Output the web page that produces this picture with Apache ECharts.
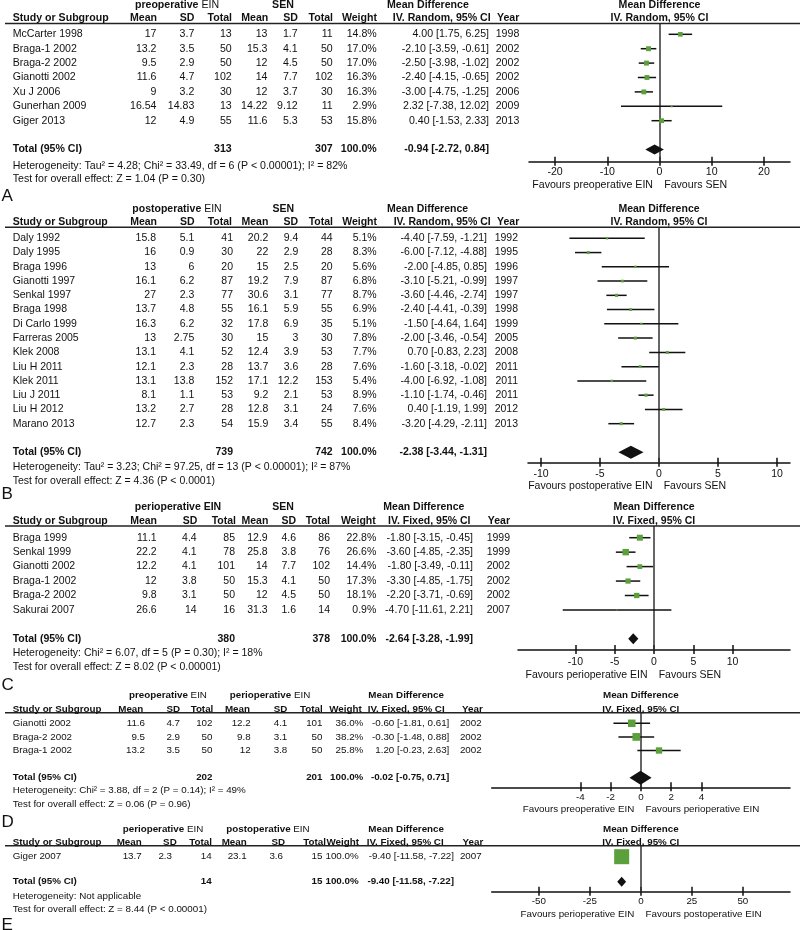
<!DOCTYPE html>
<html><head><meta charset="utf-8">
<script src="https://cdn.jsdelivr.net/npm/echarts@6/dist/echarts.min.js"></script>
<style>html,body{margin:0;padding:0;background:#fff}#c{width:800px;height:930px}</style>
</head><body><div id="c"></div>
<script>
// ===== Panel A: preoperative EIN vs SEN =====
const aStudy = ['McCarter 1998','Braga-1 2002','Braga-2 2002','Gianotti 2002','Xu J 2006','Gunerhan 2009','Giger 2013'];
const aMean1 = [17,13.2,9.5,11.6,9,16.54,12];
const aSD1 = [3.7,3.5,2.9,4.7,3.2,14.83,4.9];
const aN1 = [13,50,50,102,30,13,55];
const aMean2 = [13,15.3,12,14,12,14.22,11.6];
const aSD2 = [1.7,4.1,4.5,7.7,3.7,9.12,5.3];
const aN2 = [11,50,50,102,30,11,53];
const aWeight = [14.8,17.0,17.0,16.3,16.3,2.9,15.8];
const aMD = [4.00,-2.10,-2.50,-2.40,-3.00,2.32,0.40];
const aLo = [1.75,-3.59,-3.98,-4.15,-4.75,-7.38,-1.53];
const aHi = [6.25,-0.61,-1.02,-0.65,-1.25,12.02,2.33];
const aYear = [1998,2002,2002,2002,2006,2009,2013];
const aTotal = [313,307,-0.94,-2.72,0.84];
const aTicks = [-20,-10,0,10,20];

// ===== Panel B: postoperative EIN vs SEN =====
const bStudy = ['Daly 1992','Daly 1995','Braga 1996','Gianotti 1997','Senkal 1997','Braga 1998','Di Carlo 1999','Farreras 2005','Klek 2008','Liu H 2011','Klek 2011','Liu J 2011','Liu H 2012','Marano 2013'];
const bMean1 = [15.8,16,13,16.1,27,13.7,16.3,13,13.1,12.1,13.1,8.1,13.2,12.7];
const bSD1 = [5.1,0.9,6,6.2,2.3,4.8,6.2,2.75,4.1,2.3,13.8,1.1,2.7,2.3];
const bN1 = [41,30,20,87,77,55,32,30,52,28,152,53,28,54];
const bMean2 = [20.2,22,15,19.2,30.6,16.1,17.8,15,12.4,13.7,17.1,9.2,12.8,15.9];
const bSD2 = [9.4,2.9,2.5,7.9,3.1,5.9,6.9,3,3.9,3.6,12.2,2.1,3.1,3.4];
const bN2 = [44,28,20,87,77,55,35,30,53,28,153,53,24,55];
const bWeight = [5.1,8.3,5.6,6.8,8.7,6.9,5.1,7.8,7.7,7.6,5.4,8.9,7.6,8.4];
const bMD = [-4.40,-6.00,-2.00,-3.10,-3.60,-2.40,-1.50,-2.00,0.70,-1.60,-4.00,-1.10,0.40,-3.20];
const bLo = [-7.59,-7.12,-4.85,-5.21,-4.46,-4.41,-4.64,-3.46,-0.83,-3.18,-6.92,-1.74,-1.19,-4.29];
const bHi = [-1.21,-4.88,0.85,-0.99,-2.74,-0.39,1.64,-0.54,2.23,-0.02,-1.08,-0.46,1.99,-2.11];
const bYear = [1992,1995,1996,1997,1997,1998,1999,2005,2008,2011,2011,2011,2012,2013];
const bTotal = [739,742,-2.38,-3.44,-1.31];
const bTicks = [-10,-5,0,5,10];

// ===== Panel C: perioperative EIN vs SEN =====
const cStudy = ['Braga 1999','Senkal 1999','Gianotti 2002','Braga-1 2002','Braga-2 2002','Sakurai 2007'];
const cMean1 = [11.1,22.2,12.2,12,9.8,26.6];
const cSD1 = [4.4,4.1,4.1,3.8,3.1,14];
const cN1 = [85,78,101,50,50,16];
const cMean2 = [12.9,25.8,14,15.3,12,31.3];
const cSD2 = [4.6,3.8,7.7,4.1,4.5,1.6];
const cN2 = [86,76,102,50,50,14];
const cWeight = [22.8,26.6,14.4,17.3,18.1,0.9];
const cMD = [-1.80,-3.60,-1.80,-3.30,-2.20,-4.70];
const cLo = [-3.15,-4.85,-3.49,-4.85,-3.71,-11.61];
const cHi = [-0.45,-2.35,-0.11,-1.75,-0.69,2.21];
const cYear = [1999,1999,2002,2002,2002,2007];
const cTotal = [380,378,-2.64,-3.28,-1.99];
const cTicks = [-10,-5,0,5,10];

// ===== Panel D: preoperative EIN vs perioperative EIN =====
const dStudy = ['Gianotti 2002','Braga-2 2002','Braga-1 2002'];
const dMean1 = [11.6,9.5,13.2];
const dSD1 = [4.7,2.9,3.5];
const dN1 = [102,50,50];
const dMean2 = [12.2,9.8,12];
const dSD2 = [4.1,3.1,3.8];
const dN2 = [101,50,50];
const dWeight = [36.0,38.2,25.8];
const dMD = [-0.60,-0.30,1.20];
const dLo = [-1.81,-1.48,-0.23];
const dHi = [0.61,0.88,2.63];
const dYear = [2002,2002,2002];
const dTotal = [202,201,-0.02,-0.75,0.71];
const dTicks = [-4,-2,0,2,4];

// ===== Panel E: perioperative EIN vs postoperative EIN =====
const eStudy = ['Giger 2007'];
const eMean1 = [13.7];
const eSD1 = [2.3];
const eN1 = [14];
const eMean2 = [23.1];
const eSD2 = [3.6];
const eN2 = [15];
const eWeight = [100.0];
const eMD = [-9.40];
const eLo = [-11.58];
const eHi = [-7.22];
const eYear = [2007];
const eTotal = [14,15,-9.40,-11.58,-7.22];
const eTicks = [-50,-25,0,25,50];

const FF = '"Liberation Sans", Arial, Helvetica, sans-serif';
const INK = '#111';
const GREEN = '#5ba03b';

const panels = [
 {letter:'A', study:aStudy,m1:aMean1,sd1:aSD1,n1:aN1,m2:aMean2,sd2:aSD2,n2:aN2,w:aWeight,md:aMD,lo:aLo,hi:aHi,yr:aYear,total:aTotal,ticks:aTicks,
  g1:'{b|preoperative} EIN', g2:'{b|SEN}', method:'IV. Random, 95% CI',
  fav:['Favours preoperative EIN','Favours SEN'],
  het:'Heterogeneity: Tau² = 4.28; Chi² = 33.49, df = 6 (P < 0.00001); I² = 82%',
  test:'Test for overall effect: Z = 1.04 (P = 0.30)',
  L:{lineY:23.5,h1:5.5,h2:18.5,row0:34.3,rowH:14.4,axisY:161.7,axL:529,axR:790,xmin:-25,xmax:25,fs:10.6,lblM:5,favY:185,hetY:165.7,testY:179.3,letY:196,dh:5,sq:1.2,
   cols:{m1:156.5,sd1:194.3,n1:231.7,m2:267.5,sd2:297.7,n2:332.7,w:376.7,md:489,yr:519.3},
   hdr1:[177,283,387], hdr2:{m1:157,sd1:194.5,n1:232,m2:268.3,sd2:298,n2:333,w:377,iv:[490.7,'right'],yr:519.3}}},
 {letter:'B', study:bStudy,m1:bMean1,sd1:bSD1,n1:bN1,m2:bMean2,sd2:bSD2,n2:bN2,w:bWeight,md:bMD,lo:bLo,hi:bHi,yr:bYear,total:bTotal,ticks:bTicks,
  g1:'{b|postoperative} EIN', g2:'{b|SEN}', method:'IV. Random, 95% CI',
  fav:['Favours postoperative EIN','Favours SEN'],
  het:'Heterogeneity: Tau² = 3.23; Chi² = 97.25, df = 13 (P < 0.00001); I² = 87%',
  test:'Test for overall effect: Z = 4.36 (P < 0.0001)',
  L:{lineY:227.3,h1:209,h2:222.3,row0:238.3,rowH:14.26,axisY:462.7,axL:528,axR:790,xmin:-11.1,xmax:11.1,fs:10.5,lblM:6,favY:486,hetY:466.7,testY:480.7,letY:494,dh:6.5,sq:1.05,
   cols:{m1:156,sd1:194.3,n1:233,m2:268.3,sd2:298.3,n2:332.7,w:376.7,md:487,yr:518},
   hdr1:[177,283.3,387], hdr2:{m1:157,sd1:194.5,n1:232,m2:268.3,sd2:298,n2:333,w:377,iv:[490.7,'right'],yr:519.3}}},
 {letter:'C', study:cStudy,m1:cMean1,sd1:cSD1,n1:cN1,m2:cMean2,sd2:cSD2,n2:cN2,w:cWeight,md:cMD,lo:cLo,hi:cHi,yr:cYear,total:cTotal,ticks:cTicks,
  g1:'{b|perioperative EIN}', g2:'{b|SEN}', method:'IV. Fixed, 95% CI',
  fav:['Favours perioperative EIN','Favours SEN'],
  het:'Heterogeneity: Chi² = 6.07, df = 5 (P = 0.30); I² = 18%',
  test:'Test for overall effect: Z = 8.02 (P < 0.00001)',
  L:{lineY:526,h1:507.5,h2:521.3,row0:537.7,rowH:14.45,axisY:650,axL:518,axR:790,xmin:-17.3,xmax:17.3,fs:10.5,lblM:7,favY:675,hetY:653.3,testY:667.3,letY:685,dh:5.5,sq:1.25,
   cols:{m1:156.7,sd1:196.7,n1:235,m2:267.7,sd2:296,n2:330,w:376.3,md:473,yr:510},
   hdr1:[178,283,383.3], hdr2:{m1:157,sd1:197.3,n1:236,m2:268.3,sd2:296,n2:330,w:375.7,iv:[388,'left'],yr:510}}},
 {letter:'D', study:dStudy,m1:dMean1,sd1:dSD1,n1:dN1,m2:dMean2,sd2:dSD2,n2:dN2,w:dWeight,md:dMD,lo:dLo,hi:dHi,yr:dYear,total:dTotal,ticks:dTicks,
  g1:'{b|preoperative} EIN', g2:'{b|perioperative} EIN', method:'IV. Fixed, 95% CI',
  fav:['Favours preoperative EIN','Favours perioperative EIN'],
  het:'Heterogeneity: Chi² = 3.88, df = 2 (P = 0.14); I² = 49%',
  test:'Test for overall effect: Z = 0.06 (P = 0.96)',
  L:{lineY:712.7,h1:695.5,h2:709.3,row0:723.3,rowH:13.6,axisY:787.3,axL:491.7,axR:790,xmin:-9.85,xmax:9.85,fs:9.8,lblM:4.5,favY:809.3,hetY:790.7,testY:804,letY:822.5,dh:7,sq:1.25,
   cols:{m1:145,sd1:180,n1:212.5,m2:250.7,sd2:287.3,n2:322.5,w:363.3,md:449.3,yr:481.7},
   hdr1:[168,270,368.3], hdr2:{m1:143.3,sd1:180,n1:213.3,m2:250,sd2:287.3,n2:322.7,w:361.7,iv:[367.7,'left'],yr:482.7}}},
 {letter:'E', study:eStudy,m1:eMean1,sd1:eSD1,n1:eN1,m2:eMean2,sd2:eSD2,n2:eN2,w:eWeight,md:eMD,lo:eLo,hi:eHi,yr:eYear,total:eTotal,ticks:eTicks,
  g1:'{b|perioperative} EIN', g2:'{b|postoperative} EIN', method:'IV. Fixed, 95% CI',
  fav:['Favours perioperative EIN','Favours postoperative EIN'],
  het:'Heterogeneity: Not applicable',
  test:'Test for overall effect: Z = 8.44 (P < 0.00001)',
  L:{lineY:845.7,h1:829,h2:842.3,row0:856.7,rowH:12.5,axisY:891.7,axL:491.7,axR:790,xmin:-73.1,xmax:73.1,fs:9.8,lblM:5,favY:914,hetY:896,testY:909.3,letY:925,dh:5,sq:1.5,
   cols:{m1:141.7,sd1:172,n1:211.7,m2:246.7,sd2:283,n2:322.5,w:358.7,md:454,yr:481.7},
   hdr1:[163,268,368.3], hdr2:{m1:141.7,sd1:176.7,n1:212,m2:246.7,sd2:285,n2:326,w:359,iv:[366.7,'left'],yr:483.3}}}
];

function fmtCI(m,l,h){ return m.toFixed(2)+' ['+l.toFixed(2)+', '+h.toFixed(2)+']'; }

function gtxt(x,y,text,align,fs,bold,extra){
  return {type:'text', x:x, y:y, silent:true, z:10,
    style:Object.assign({text:text, align:align, verticalAlign:'middle', fontSize:fs, fontFamily:FF, fontWeight:bold?'bold':'normal', fill:INK}, extra||{})};
}

function makeTableRender(P){
  const L=P.L, c=L.cols, n=P.study.length;
  return function(params, api){
    const i=params.dataIndex;
    const y=api.coord([0, api.value(1)])[1];
    const T=(x,s,al,b)=>({type:'text', x:x, y:y, silent:true,
      style:{text:String(s), align:al, verticalAlign:'middle', fontSize:L.fs, fontFamily:FF, fontWeight:b?'bold':'normal', fill:INK}});
    if(i<n){
      return {type:'group', children:[
        T(12.7,P.study[i],'left'),
        T(c.m1,P.m1[i],'right'), T(c.sd1,P.sd1[i],'right'), T(c.n1,P.n1[i],'right'),
        T(c.m2,P.m2[i],'right'), T(c.sd2,P.sd2[i],'right'), T(c.n2,P.n2[i],'right'),
        T(c.w,P.w[i].toFixed(1)+'%','right'),
        T(c.md,fmtCI(P.md[i],P.lo[i],P.hi[i]),'right'),
        T(c.yr,P.yr[i],'right')
      ]};
    }
    const t=P.total;
    return {type:'group', children:[
      T(12.7,'Total (95% CI)','left',1), T(c.n1,t[0],'right',1), T(c.n2,t[1],'right',1),
      T(c.w,'100.0%','right',1), T(c.md,fmtCI(t[2],t[3],t[4]),'right',1)
    ]};
  };
}

function makeForestRender(P){
  return function(params, api){
    const r=api.value(1);
    const pm=api.coord([api.value(0), r]), pl=api.coord([api.value(2), r]), ph=api.coord([api.value(3), r]);
    const s=P.L.sq*Math.sqrt(api.value(4));
    return {type:'group', children:[
      {type:'line', shape:{x1:pl[0],y1:pm[1],x2:ph[0],y2:pm[1]}, style:{stroke:INK, lineWidth:1.5}},
      {type:'rect', shape:{x:pm[0]-s/2,y:pm[1]-s/2,width:s,height:s}, style:{fill:GREEN}}
    ]};
  };
}

function makeDiamondRender(P){
  return function(params, api){
    const r=api.value(1);
    const pm=api.coord([api.value(0), r]), pl=api.coord([api.value(2), r]), ph=api.coord([api.value(3), r]);
    const h=P.L.dh;
    return {type:'polygon', shape:{points:[[pl[0],pm[1]],[pm[0],pm[1]-h],[ph[0],pm[1]],[pm[0],pm[1]+h]]}, style:{fill:INK}};
  };
}

const grid=[], xAxis=[], yAxis=[], series=[], graphic=[];
panels.forEach((P,k)=>{
  const L=P.L, n=P.study.length;
  const zeroX = L.axL + (0-L.xmin)/(L.xmax-L.xmin)*(L.axR-L.axL);
  grid.push({left:L.axL, top:L.lineY, width:L.axR-L.axL, height:L.axisY-L.lineY, containLabel:false});
  const base = {gridIndex:k, type:'value', min:L.xmin, max:L.xmax, position:'bottom', splitLine:{show:false}};
  xAxis.push(Object.assign({}, base, {
    axisLine:{show:true, onZero:false, lineStyle:{color:INK, width:1.5}},
    axisTick:{show:true, inside:false, length:4, customValues:P.ticks, lineStyle:{color:INK, width:1.5}},
    axisLabel:{show:true, customValues:P.ticks, margin:L.lblM, fontSize:L.fs, fontFamily:FF, color:INK}
  }));
  xAxis.push(Object.assign({}, base, {
    axisLine:{show:false, onZero:false},
    axisTick:{show:true, inside:true, length:5, customValues:P.ticks, lineStyle:{color:INK, width:1.5}},
    axisLabel:{show:false}
  }));
  yAxis.push({gridIndex:k, type:'value', inverse:true, show:false,
    min:(L.lineY-L.row0)/L.rowH, max:(L.axisY-L.row0)/L.rowH});

  const rows=[]; for(let i=0;i<n;i++) rows.push([0,i]); rows.push([0,n+1]);
  series.push({type:'custom', xAxisIndex:2*k, yAxisIndex:k, clip:false, silent:true, z:2,
    renderItem:makeTableRender(P), data:rows});
  series.push({type:'custom', xAxisIndex:2*k, yAxisIndex:k, clip:false, silent:true, z:4,
    renderItem:makeForestRender(P),
    data:P.md.map((v,i)=>[v,i,P.lo[i],P.hi[i],P.w[i]]),
    markLine:{silent:true, symbol:['none','none'], label:{show:false}, z:3,
      lineStyle:{color:'#333', width:1.5, type:'solid'}, data:[{xAxis:0}]}});
  series.push({type:'custom', xAxisIndex:2*k, yAxisIndex:k, clip:false, silent:true, z:5,
    renderItem:makeDiamondRender(P), data:[[P.total[2], n+1, P.total[3], P.total[4]]]});

  // header rule
  graphic.push({type:'line', silent:true, z:9, shape:{x1:5,y1:L.lineY,x2:800,y2:L.lineY}, style:{stroke:'#222', lineWidth:1.5}});
  const rich={b:{fontWeight:'bold', fontSize:L.fs, fontFamily:FF, fill:INK}};
  graphic.push(gtxt(L.hdr1[0], L.h1, P.g1, 'center', L.fs, false, {rich:rich}));
  graphic.push(gtxt(L.hdr1[1], L.h1, P.g2, 'center', L.fs, false, {rich:rich}));
  graphic.push(gtxt(L.hdr1[2], L.h1, 'Mean Difference', 'left', L.fs, true));
  graphic.push(gtxt(zeroX, L.h1, 'Mean Difference', 'center', L.fs, true));
  const h=L.hdr2;
  [['Study or Subgroup',12.7,'left'],['Mean',h.m1,'right'],['SD',h.sd1,'right'],['Total',h.n1,'right'],
   ['Mean',h.m2,'right'],['SD',h.sd2,'right'],['Total',h.n2,'right'],['Weight',h.w,'right'],
   [P.method,h.iv[0],h.iv[1]],['Year',h.yr,'right'],[P.method,zeroX,'center']].forEach(a=>{
    graphic.push(gtxt(a[1], L.h2, a[0], a[2], L.fs, true));
  });
  graphic.push(gtxt(12.7, L.hetY, P.het, 'left', L.fs, false));
  graphic.push(gtxt(12.7, L.testY, P.test, 'left', L.fs, false));
  graphic.push(gtxt(zeroX-6.5, L.favY, P.fav[0], 'right', L.fs, false));
  graphic.push(gtxt(zeroX+4.7, L.favY, P.fav[1], 'left', L.fs, false));
  graphic.push(gtxt(1.5, L.letY, P.letter, 'left', 17, false));
});

const chart = echarts.init(document.getElementById('c'), null, {renderer:'canvas', width:800, height:930});
chart.setOption({animation:false, backgroundColor:'#fff', grid:grid, xAxis:xAxis, yAxis:yAxis, series:series, graphic:graphic});
</script>
</body></html>
